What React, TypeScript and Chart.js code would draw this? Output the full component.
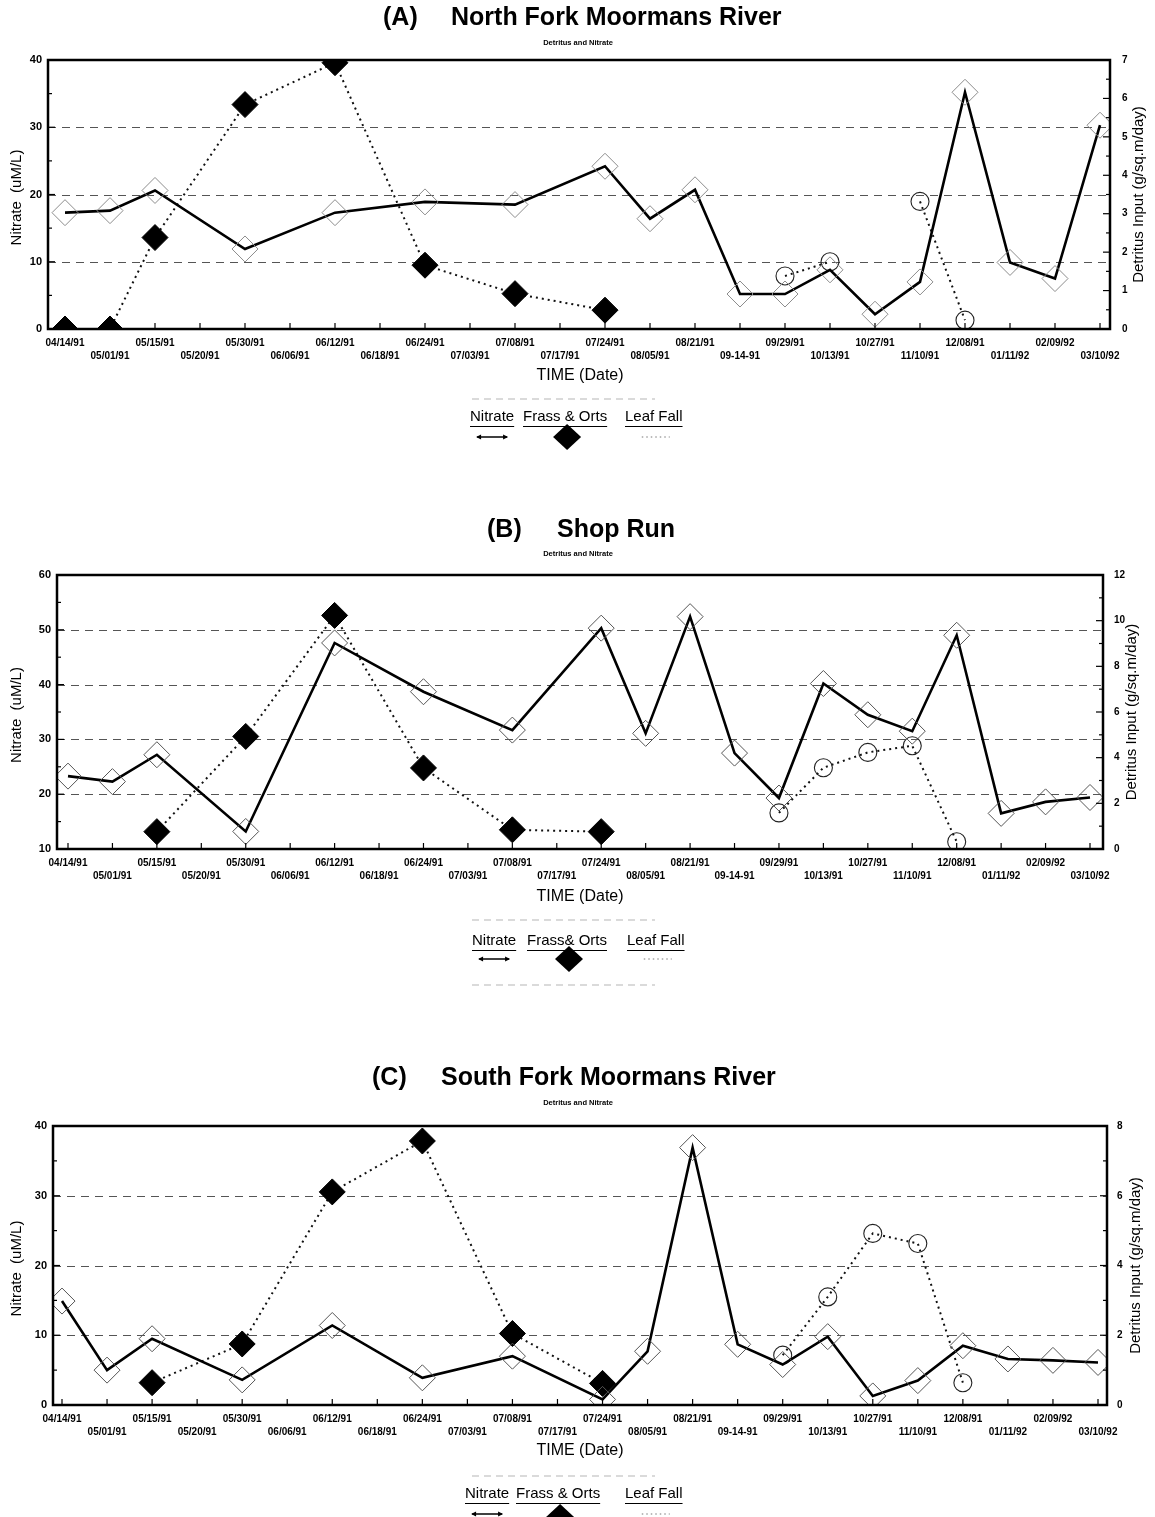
import React, { useEffect, useRef } from 'react';
import { Chart, registerables } from 'chart.js';

Chart.register(...registerables);

const PAGE_W = 1155;
const FONT = "'Liberation Sans', Arial, Helvetica, sans-serif";

// Sampling dates shared by all three streams
const sampleDates = [
  '04/14/91', '05/01/91', '05/15/91', '05/20/91', '05/30/91', '06/06/91',
  '06/12/91', '06/18/91', '06/24/91', '07/03/91', '07/08/91', '07/17/91',
  '07/24/91', '08/05/91', '08/21/91', '09-14-91', '09/29/91', '10/13/91',
  '10/27/91', '11/10/91', '12/08/91', '01/11/92', '02/09/92', '03/10/92',
];

// (A) North Fork Moormans River
const northNitrate = [17.3, 17.6, 20.6, null, 11.9, null, 17.3, null, 18.9, null, 18.5, null, 24.2, 16.4, 20.7, 5.2, 5.2, 8.8, 2.2, 7.0, 35.2, 9.9, 7.5, 30.3];
const northFrass = [0, 0, 2.38, null, 5.84, null, 6.93, null, 1.66, null, 0.92, null, 0.49, null, null, null, null, null, null, null, null, null, null, null];
const northLeaf = [null, null, null, null, null, null, null, null, null, null, null, null, null, null, null, null, 1.38, 1.75, null, 3.32, 0.23, null, null, null];
const northNitrateTicks = [0, 10, 20, 30, 40];
const northDetritusTicks = [0, 1, 2, 3, 4, 5, 6, 7];

// (B) Shop Run
const shopNitrate = [23.3, 22.3, 27.2, null, 13.2, null, 47.6, null, 38.7, null, 31.7, null, 50.3, 31.1, 52.4, 27.5, 19.3, 40.2, 34.5, 31.5, 49.0, 16.5, 18.6, 19.4];
const shopFrass = [null, null, 0.76, null, 4.93, null, 10.23, null, 3.55, null, 0.84, null, 0.76, null, null, null, null, null, null, null, null, null, null, null];
const shopLeaf = [null, null, null, null, null, null, null, null, null, null, null, null, null, null, null, null, 1.58, 3.56, 4.23, 4.52, 0.32, null, null, null];
const shopNitrateTicks = [10, 20, 30, 40, 50, 60];
const shopDetritusTicks = [0, 2, 4, 6, 8, 10, 12];

// (C) South Fork Moormans River
const southNitrate = [14.9, 5.0, 9.5, null, 3.6, null, 11.4, null, 3.9, null, 7.0, null, 0.8, 7.7, 36.9, 8.7, 5.8, 9.8, 1.3, 3.5, 8.5, 6.6, 6.4, 6.1];
const southFrass = [null, null, 0.64, null, 1.75, null, 6.11, null, 7.57, null, 2.05, null, 0.62, null, null, null, null, null, null, null, null, null, null, null];
const southLeaf = [null, null, null, null, null, null, null, null, null, null, null, null, null, null, null, null, 1.43, 3.1, 4.92, 4.63, 0.64, null, null, null];
const southNitrateTicks = [0, 10, 20, 30, 40];
const southDetritusTicks = [0, 2, 4, 6, 8];

const legendWordsA = ['Nitrate', 'Frass & Orts', 'Leaf Fall'];
const legendWordsB = ['Nitrate', 'Frass& Orts', 'Leaf Fall'];

type Spec = {
  key: string;
  letter: string;
  name: string;
  top: number;
  height: number;
  area: { left: number; right: number; top: number; bottom: number };
  firstX: number;
  lastX: number;
  nitrate: (number | null)[];
  frass: (number | null)[];
  leaf: (number | null)[];
  leftTicks: number[];
  rightTicks: number[];
  leftMinor: number;
  rightMinor: number;
  letterX: number;
  nameX: number;
  titleY: number;
  subY: number;
  xTitleY: number;
  legendY: number;
  symbolY: number;
  diamondDy: number;
  legendX: number[];
  legendWords: string[];
  faintLines: number[];
  diamondColor: string;
  rightPad: number;
};

const panels: Spec[] = [
  {
    key: 'A', letter: '(A)', name: 'North Fork Moormans River', top: 0, height: 480,
    area: { left: 48, right: 1110, top: 60, bottom: 329 }, firstX: 65, lastX: 1100,
    nitrate: northNitrate, frass: northFrass, leaf: northLeaf,
    leftTicks: northNitrateTicks, rightTicks: northDetritusTicks, leftMinor: 5, rightMinor: 0.5,
    letterX: 383, nameX: 451, titleY: 18, subY: 43, xTitleY: 376, legendY: 417, symbolY: 437, diamondDy: 0,
    legendX: [470, 523, 625], legendWords: legendWordsA, faintLines: [399], diamondColor: '#8c8c8c', rightPad: 12,
  },
  {
    key: 'B', letter: '(B)', name: 'Shop Run', top: 480, height: 540,
    area: { left: 57, right: 1103, top: 575, bottom: 849 }, firstX: 68, lastX: 1090,
    nitrate: shopNitrate, frass: shopFrass, leaf: shopLeaf,
    leftTicks: shopNitrateTicks, rightTicks: shopDetritusTicks, leftMinor: 5, rightMinor: 1,
    letterX: 487, nameX: 557, titleY: 530, subY: 554, xTitleY: 897, legendY: 941, symbolY: 959, diamondDy: 0,
    legendX: [472, 527, 627], legendWords: legendWordsB, faintLines: [920, 985], diamondColor: '#555', rightPad: 11,
  },
  {
    key: 'C', letter: '(C)', name: 'South Fork Moormans River', top: 1020, height: 497,
    area: { left: 53, right: 1107, top: 1126, bottom: 1405 }, firstX: 62, lastX: 1098,
    nitrate: southNitrate, frass: southFrass, leaf: southLeaf,
    leftTicks: southNitrateTicks, rightTicks: southDetritusTicks, leftMinor: 5, rightMinor: 1,
    letterX: 372, nameX: 441, titleY: 1078, subY: 1103, xTitleY: 1451, legendY: 1494, symbolY: 1514, diamondDy: 3,
    legendX: [465, 516, 625], legendWords: legendWordsA, faintLines: [1476], diamondColor: '#555', rightPad: 10,
  },
];

function seg(ctx: CanvasRenderingContext2D, x1: number, y1: number, x2: number, y2: number) {
  ctx.beginPath();
  ctx.moveTo(x1, y1);
  ctx.lineTo(x2, y2);
  ctx.stroke();
}

function decorPlugin(p: Spec) {
  const off = p.top;
  return {
    id: 'decor' + p.key,
    beforeDatasetsDraw(chart: any) {
      const { ctx, chartArea: a, scales } = chart;
      ctx.save();
      ctx.strokeStyle = '#555';
      ctx.lineWidth = 1;
      ctx.setLineDash([8, 6]);
      p.leftTicks.slice(1, -1).forEach((v) => {
        const py = Math.round(scales.y.getPixelForValue(v)) + 0.5;
        seg(ctx, a.left, py, a.right, py);
      });
      ctx.restore();
    },
    afterDatasetsDraw(chart: any) {
      const { ctx, chartArea: a, scales } = chart;
      ctx.save();
      ctx.strokeStyle = '#000';
      ctx.lineWidth = 1.2;
      // inside tick marks along the time axis
      sampleDates.forEach((_, i) => {
        const px = scales.x.getPixelForValue(i);
        seg(ctx, px, a.bottom, px, a.bottom - 6);
      });
      // inside tick marks on both value axes
      const lt = p.leftTicks;
      for (let v = lt[0]; v <= lt[lt.length - 1] + 1e-9; v += p.leftMinor) {
        const py = scales.y.getPixelForValue(v);
        const major = lt.includes(v);
        seg(ctx, a.left, py, a.left + (major ? 7 : 4), py);
      }
      const rt = p.rightTicks;
      for (let v = rt[0]; v <= rt[rt.length - 1] + 1e-9; v += p.rightMinor) {
        const py = scales.y1.getPixelForValue(v);
        const major = rt.includes(v);
        seg(ctx, a.right, py, a.right - (major ? 7 : 4), py);
      }
      // plot frame
      ctx.lineWidth = 2.5;
      ctx.strokeRect(a.left, a.top, a.right - a.left, a.bottom - a.top);
      ctx.restore();
    },
    afterDraw(chart: any) {
      const { ctx, chartArea: a } = chart;
      ctx.save();
      ctx.fillStyle = '#000';
      ctx.textBaseline = 'middle';
      // panel title
      ctx.font = `bold 25px ${FONT}`;
      ctx.textAlign = 'left';
      ctx.fillText(p.letter, p.letterX, p.titleY - off);
      ctx.fillText(p.name, p.nameX, p.titleY - off);
      ctx.font = `bold 7.5px ${FONT}`;
      ctx.textAlign = 'center';
      ctx.fillText('Detritus and Nitrate', 578, p.subY - off);
      // axis titles
      ctx.font = `16px ${FONT}`;
      ctx.fillText('TIME (Date)', 580, p.xTitleY - off);
      const midY = (a.top + a.bottom) / 2;
      ctx.font = `15px ${FONT}`;
      ctx.save();
      ctx.translate(17, midY + 3);
      ctx.rotate(-Math.PI / 2);
      ctx.fillText('Nitrate  (uM/L)', 0, 0);
      ctx.restore();
      ctx.save();
      ctx.translate(a.right + 29, midY);
      ctx.rotate(-Math.PI / 2);
      ctx.fillText('Detritus Input (g/sq.m/day)', 0, 0);
      ctx.restore();
      // faint rules around the key
      ctx.strokeStyle = '#b5b5b5';
      ctx.lineWidth = 1;
      ctx.setLineDash([7, 5]);
      p.faintLines.forEach((ly) => seg(ctx, 472, ly - off, 655, ly - off));
      ctx.setLineDash([]);
      // key: underlined names with their symbols below
      ctx.font = `15px ${FONT}`;
      ctx.textAlign = 'left';
      ctx.strokeStyle = '#000';
      const centers: number[] = [];
      p.legendWords.forEach((w, i) => {
        const x = p.legendX[i];
        const width = ctx.measureText(w).width;
        const ly = p.legendY - off;
        ctx.fillText(w, x, ly);
        seg(ctx, x, ly + 9.5, x + width, ly + 9.5);
        centers.push(x + width / 2);
      });
      const sy = p.symbolY - off;
      // nitrate: solid line with arrow ends
      ctx.lineWidth = 1.5;
      const n0 = centers[0] - 15;
      const n1 = centers[0] + 15;
      seg(ctx, n0, sy, n1, sy);
      ctx.beginPath();
      ctx.moveTo(n0 - 1, sy); ctx.lineTo(n0 + 4, sy - 2.5); ctx.lineTo(n0 + 4, sy + 2.5); ctx.closePath();
      ctx.moveTo(n1 + 1, sy); ctx.lineTo(n1 - 4, sy - 2.5); ctx.lineTo(n1 - 4, sy + 2.5); ctx.closePath();
      ctx.fill();
      // frass & orts: filled diamond
      const dx = centers[1] + 2;
      const dy = sy + p.diamondDy;
      ctx.beginPath();
      ctx.moveTo(dx, dy - 13); ctx.lineTo(dx + 14, dy); ctx.lineTo(dx, dy + 13); ctx.lineTo(dx - 14, dy);
      ctx.closePath();
      ctx.fill();
      // leaf fall: dotted line
      ctx.strokeStyle = '#777';
      ctx.lineWidth = 1;
      ctx.setLineDash([1.5, 3]);
      seg(ctx, centers[2] - 12, sy, centers[2] + 16, sy);
      ctx.restore();
    },
  };
}

function buildConfig(p: Spec): any {
  const spacing = (p.lastX - p.firstX) / (sampleDates.length - 1);
  const xMin = -(p.firstX - p.area.left) / spacing;
  const xMax = sampleDates.length - 1 + (p.area.right - p.lastX) / spacing;
  const toPoints = (arr: (number | null)[]) => arr.map((v, i) => ({ x: i, y: v }));
  const tickFont = { family: FONT, weight: 'bold' as const };
  return {
    type: 'line',
    data: {
      datasets: [
        {
          label: 'Nitrate',
          data: toPoints(p.nitrate),
          yAxisID: 'y',
          order: 0,
          borderColor: '#000',
          borderWidth: 2.6,
          tension: 0,
          spanGaps: true,
          pointStyle: 'rectRot',
          pointRadius: 13,
          pointBorderColor: p.diamondColor,
          pointBorderWidth: 1,
          pointBackgroundColor: 'rgba(0,0,0,0)',
        },
        {
          label: 'Leaf Fall',
          data: toPoints(p.leaf),
          yAxisID: 'y1',
          order: 1,
          borderColor: '#111',
          borderWidth: 2,
          borderDash: [2, 4],
          tension: 0,
          spanGaps: false,
          pointStyle: 'circle',
          pointRadius: 9,
          pointBorderColor: '#222',
          pointBorderWidth: 1.1,
          pointBackgroundColor: 'rgba(0,0,0,0)',
        },
        {
          label: p.legendWords[1],
          data: toPoints(p.frass),
          yAxisID: 'y1',
          order: 2,
          borderColor: '#111',
          borderWidth: 2,
          borderDash: [2, 4],
          tension: 0,
          spanGaps: true,
          pointStyle: 'rectRot',
          pointRadius: 13,
          pointBorderColor: '#000',
          pointBorderWidth: 1,
          pointBackgroundColor: '#000',
        },
      ],
    },
    options: {
      responsive: false,
      animation: false,
      devicePixelRatio: 1,
      events: [],
      layout: { padding: { top: p.area.top - p.top, left: 0, right: 0, bottom: 0 } },
      plugins: { legend: { display: false }, tooltip: { enabled: false }, title: { display: false } },
      scales: {
        x: {
          type: 'linear',
          min: xMin,
          max: xMax,
          afterBuildTicks: (s: any) => { s.ticks = sampleDates.map((_, i) => ({ value: i })); },
          afterFit: (s: any) => { s.height = p.top + p.height - p.area.bottom; },
          grid: { display: false, drawTicks: false },
          border: { display: false },
          ticks: {
            autoSkip: false,
            maxRotation: 0,
            minRotation: 0,
            padding: 8,
            color: '#000',
            font: { ...tickFont, size: 10, lineHeight: 1.25 },
            callback: (v: number) => {
              const i = Math.round(v);
              const t = sampleDates[i];
              return i % 2 === 0 ? [t, ''] : ['', t];
            },
          },
        },
        y: {
          type: 'linear',
          position: 'left',
          min: p.leftTicks[0],
          max: p.leftTicks[p.leftTicks.length - 1],
          afterBuildTicks: (s: any) => { s.ticks = p.leftTicks.map((v) => ({ value: v })); },
          afterFit: (s: any) => { s.width = p.area.left; },
          grid: { display: false, drawTicks: false },
          border: { display: false },
          ticks: { padding: 6, color: '#000', font: { ...tickFont, size: 11 } },
        },
        y1: {
          type: 'linear',
          position: 'right',
          min: p.rightTicks[0],
          max: p.rightTicks[p.rightTicks.length - 1],
          afterBuildTicks: (s: any) => { s.ticks = p.rightTicks.map((v) => ({ value: v })); },
          afterFit: (s: any) => { s.width = PAGE_W - p.area.right; },
          grid: { display: false, drawTicks: false },
          border: { display: false },
          ticks: { padding: p.rightPad, color: '#000', font: { ...tickFont, size: 10 } },
        },
      },
    },
    plugins: [decorPlugin(p)],
  };
}

function Panel({ spec }: { spec: Spec }) {
  const ref = useRef<HTMLCanvasElement>(null);
  useEffect(() => {
    const chart = new Chart(ref.current as HTMLCanvasElement, buildConfig(spec));
    return () => chart.destroy();
  }, [spec]);
  return (
    <canvas
      ref={ref}
      width={PAGE_W}
      height={spec.height}
      style={{ position: 'absolute', left: 0, top: spec.top, width: PAGE_W, height: spec.height }}
    />
  );
}

export default function App() {
  return (
    <div style={{ position: 'absolute', left: 0, top: 0, width: PAGE_W, height: 1517, background: '#fff', overflow: 'hidden' }}>
      {panels.map((p) => (
        <Panel key={p.key} spec={p} />
      ))}
    </div>
  );
}
